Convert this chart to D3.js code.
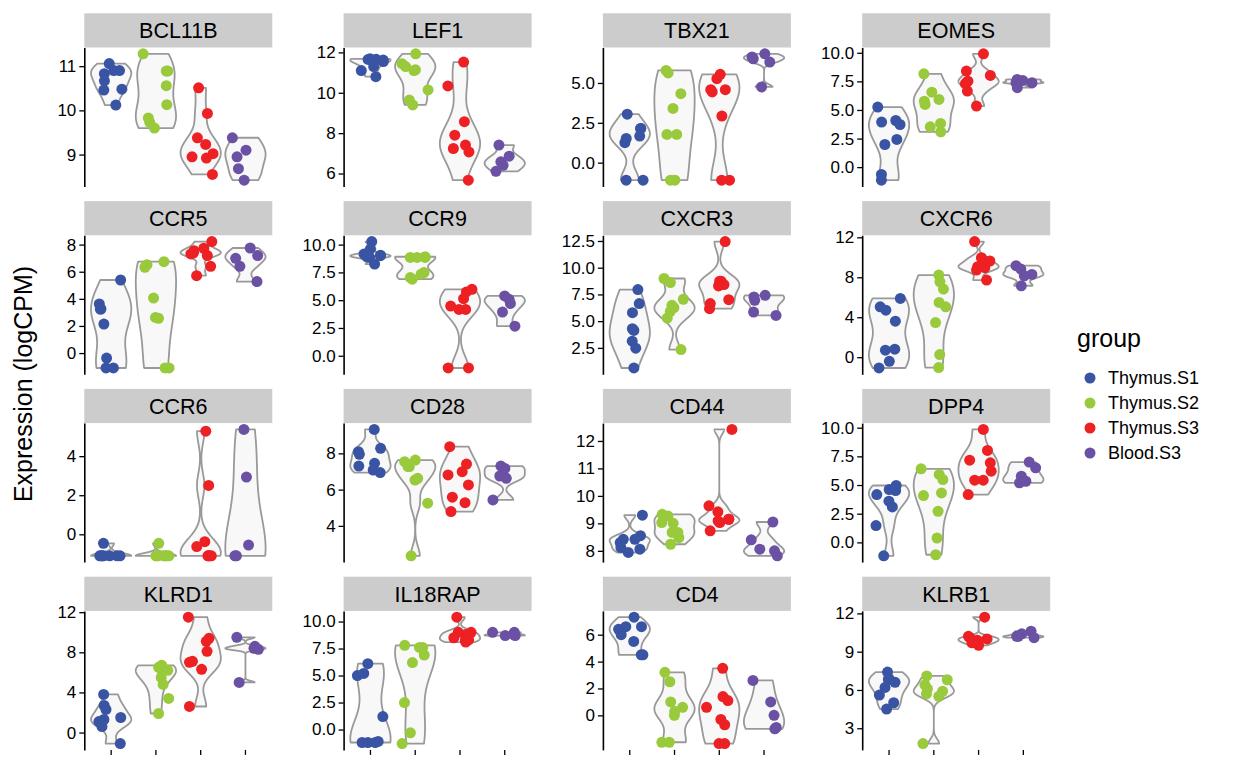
<!DOCTYPE html>
<html><head><meta charset="utf-8">
<script src="https://cdn.jsdelivr.net/npm/d3@7"></script>
<style>body{margin:0;background:#fff} svg text{font-family:"Liberation Sans",Arial,Helvetica,sans-serif;fill:#000}</style>
</head><body><svg id="chart" width="1248" height="768"></svg>
<script>
// ---------------- data ----------------
const genes = ["BCL11B","LEF1","TBX21","EOMES","CCR5","CCR9","CXCR3","CXCR6","CCR6","CD28","CD44","DPP4","KLRD1","IL18RAP","CD4","KLRB1"];
const groups = ["Thymus.S1","Thymus.S2","Thymus.S3","Blood.S3"];
const groupColors = ["#3A54A4","#98CA3C","#ED2024","#6A51A3"];

// values per group: [Thymus.S1, Thymus.S2, Thymus.S3, Blood.S3]
const BCL11B = [[11.06,10.90,10.83,10.90,10.67,10.46,10.48,10.12],[11.28,10.89,10.89,10.56,10.13,9.73,9.83,9.60],[10.51,9.93,9.38,9.23,9.02,8.95,8.92,8.55],[9.10,9.38,8.95,8.68,8.42]];
const LEF1 = [[11.68,11.66,11.65,11.62,11.55,11.30,11.10,10.80],[11.93,11.44,11.30,11.14,11.10,10.14,9.64,9.40],[11.52,10.34,8.57,7.90,7.41,7.24,7.07,5.67],[7.41,6.86,6.58,6.41,6.11]];
const TBX21 = [[3.04,2.15,2.15,1.67,1.52,1.25,-1.1,-1.1],[5.79,5.63,4.33,3.40,1.77,1.77,-1.1,-1.1],[5.54,5.27,4.58,4.58,4.44,2.92,-1.1,-1.1],[6.83,6.63,6.52,6.31,4.75]];
const EOMES = [[5.25,4.08,3.94,3.73,2.42,1.98,-0.64,-1.14],[8.16,6.56,5.92,5.77,5.48,3.82,3.53,3.09],[9.91,8.40,8.02,7.52,7.43,7.30,6.65,5.34],[7.67,7.58,7.38,7.38,6.95]];
const CCR5 = [[5.39,3.62,3.25,3.25,2.14,-0.37,-1.1,-1.1],[6.74,6.52,6.33,4.06,2.63,2.56,-1.1,-1.1],[8.22,7.73,7.55,7.38,7.31,7.19,6.40,5.71],[7.75,7.19,6.99,6.40,5.27]];
const CCR9 = [[10.27,9.61,9.15,9.05,9.00,8.90,8.85,8.25],[8.91,8.85,8.85,8.85,7.49,7.34,7.04,6.89],[5.98,5.74,5.14,4.47,4.17,4.17,-1.1,-1.1],[5.38,5.08,4.71,3.93,2.66]];
const CXCR3 = [[7.95,6.64,5.79,4.29,4.13,3.13,2.47,0.62],[8.99,8.61,7.05,6.48,6.26,5.92,5.29,2.34],[12.44,8.74,8.74,8.42,8.30,7.01,6.64,6.17],[7.42,7.27,6.95,5.85,5.54]];
const CXCR6 = [[5.88,5.04,4.71,3.61,0.80,0.70,-0.41,-1.08],[8.22,7.55,6.82,5.48,5.04,3.47,0.26,-1.04],[11.57,9.96,9.63,9.22,9.06,8.96,8.72,7.72],[9.16,8.82,8.29,8.15,7.15]];
const CCR6 = [[-0.46,-1.1,-1.1,-1.1,-1.1,-1.1,-1.1,-1.1],[-0.46,-1.1,-1.1,-1.1,-1.1,-1.1,-1.1,-1.1],[5.28,2.50,-0.38,-0.63,-1.1,-1.1,-1.1,-1.1],[5.37,2.93,-0.55,-1.1,-1.1]];
const CD28 = [[9.32,8.28,8.09,7.95,7.45,7.30,7.08,6.94],[7.63,7.54,7.27,7.27,6.62,6.53,5.25,2.35],[8.37,7.41,6.99,6.81,6.26,5.58,5.28,4.79],[7.30,7.17,6.75,6.62,5.43]];
const CD44 = [[9.30,8.55,8.42,8.42,8.30,8.12,8.06,7.94],[9.33,9.27,9.03,9.00,8.67,8.67,8.48,8.24],[12.42,9.64,9.42,9.15,9.15,9.09,9.03,8.73],[9.05,8.40,8.06,8.00,7.82]];
const DPP4 = [[4.96,4.61,4.52,4.17,3.59,3.09,1.46,-1.17],[6.41,5.92,5.48,4.31,4.08,2.71,0.38,-1.08],[9.85,8.02,7.17,6.94,6.21,5.42,5.42,4.17],[7.00,6.50,5.77,5.33,5.19]];
const KLRD1 = [[3.8,2.7,2.3,1.5,1.3,1.1,0.6,-1.1],[6.7,6.5,6.3,6.2,5.5,4.8,3.4,1.9],[11.5,9.4,9.1,8.1,7.1,7.0,6.3,2.6],[9.5,8.6,8.4,8.3,5.0]];
const IL18RAP = [[6.1,5.2,5.0,1.2,-1.2,-1.2,-1.1,-1.2],[7.8,7.6,7.6,6.9,6.2,2.5,-0.3,-1.3],[10.4,9.0,9.0,8.8,8.5,8.3,8.3,8.1],[9.0,9.0,8.8,8.7,8.7]];
const CD4 = [[7.3,6.6,6.6,6.4,6.0,5.5,4.5,4.5],[3.2,2.5,1.0,0.6,0.3,0.0,-2.0,-2.0],[3.5,1.4,1.1,0.6,-0.3,-0.7,-2.1,-2.1],[2.6,1.0,0.0,-0.9,-1.0]];
const KLRB1 = [[7.4,6.9,6.8,6.6,6.2,5.6,5.0,4.5],[7.1,6.8,6.4,6.1,5.9,5.7,5.5,1.8],[11.7,10.2,10.1,10.0,9.9,9.8,9.7,9.5],[10.6,10.4,10.2,10.2,10.1]];

// y-axis tick values per facet
const ticks_BCL11B = [9,10,11];
const ticks_LEF1 = [6,8,10,12];
const ticks_TBX21 = [0,2.5,5];
const ticks_EOMES = [0,2.5,5,7.5,10];
const ticks_CCR5 = [0,2,4,6,8];
const ticks_CCR9 = [0,2.5,5,7.5,10];
const ticks_CXCR3 = [2.5,5,7.5,10,12.5];
const ticks_CXCR6 = [0,4,8,12];
const ticks_CCR6 = [0,2,4];
const ticks_CD28 = [4,6,8];
const ticks_CD44 = [8,9,10,11,12];
const ticks_DPP4 = [0,2.5,5,7.5,10];
const ticks_KLRD1 = [0,4,8,12];
const ticks_IL18RAP = [0,2.5,5,7.5,10];
const ticks_CD4 = [0,2,4,6];
const ticks_KLRB1 = [3,6,9,12];

const yTitle = "Expression (logCPM)";
const legendTitle = "group";

// lookup built from the arrays above
const geneValues = {BCL11B,LEF1,TBX21,EOMES,CCR5,CCR9,CXCR3,CXCR6,CCR6,CD28,CD44,DPP4,KLRD1,IL18RAP,CD4,KLRB1};
const geneTicks = {BCL11B:ticks_BCL11B,LEF1:ticks_LEF1,TBX21:ticks_TBX21,EOMES:ticks_EOMES,CCR5:ticks_CCR5,CCR9:ticks_CCR9,CXCR3:ticks_CXCR3,CXCR6:ticks_CXCR6,CCR6:ticks_CCR6,CD28:ticks_CD28,CD44:ticks_CD44,DPP4:ticks_DPP4,KLRD1:ticks_KLRD1,IL18RAP:ticks_IL18RAP,CD4:ticks_CD4,KLRB1:ticks_KLRB1};

// ---------------- layout ----------------
const colX0 = 84.3, colStep = 259.3, panelW = 188;
const rowY0 = 13.3, rowStep = 187.8, stripH = 34.2, panelH = 139;
const stripFill = "#CCCCCC";
const violinFill = "#F8F8F8", violinStroke = "#999999";
const pointR = 5.5;

const svg = d3.select("#chart");
const jitter = d3.randomUniform.source(d3.randomLcg(0.4217))(-0.3, 0.3);

function bwNrd0(x){
  const n = x.length;
  const hi = d3.deviation(x);
  const s = x.slice().sort(d3.ascending);
  const iqr = d3.quantileSorted(s,0.75) - d3.quantileSorted(s,0.25);
  let lo = Math.min(hi, iqr/1.34);
  if (!lo) lo = hi || Math.abs(x[0]) || 1;
  return 0.9 * lo * Math.pow(n, -0.2);
}
function violinData(x){
  const [mn, mx] = d3.extent(x);
  if (mx - mn <= 0) return null;
  const bw = bwNrd0(x), n = x.length, N = 512;
  const pts = [];
  for (let i = 0; i < N; i++){
    const yv = mn + (mx - mn) * i / (N - 1);
    let d = 0;
    for (const v of x){ const u = (yv - v) / bw; d += Math.exp(-0.5*u*u); }
    pts.push({y: yv, d: d / (n * bw * Math.sqrt(2*Math.PI))});
  }
  const dmax = d3.max(pts, p => p.d);
  pts.forEach(p => p.w = p.d / dmax);
  return pts;
}

genes.forEach((gene, k) => {
  const col = k % 4, row = Math.floor(k / 4);
  const x0 = colX0 + col * colStep;
  const sy = rowY0 + row * rowStep;
  const py = sy + stripH;
  const g = svg.append("g");
  const vals = geneValues[gene];
  const all = vals.flat();
  const [mn, mx] = d3.extent(all);
  const pad = (mx - mn) * 0.05;
  const y = d3.scaleLinear().domain([mn - pad, mx + pad]).range([py + panelH, py]);
  const x = d3.scaleLinear().domain([0.4, 4.6]).range([x0, x0 + panelW]);
  const unit = x(1) - x(0);

  // strip
  g.append("rect").attr("x", x0).attr("y", sy).attr("width", panelW).attr("height", stripH).attr("fill", stripFill);
  g.append("text").attr("x", x0 + panelW/2).attr("y", sy + stripH/2).attr("dy", "0.36em")
    .attr("text-anchor", "middle").style("font-size", "21.5px").text(gene);

  // violins
  vals.forEach((v, i) => {
    const vd = violinData(v);
    if (!vd) return;
    const cx = x(i + 1);
    const area = d3.area().y(p => y(p.y)).x0(p => cx - 0.45 * unit * p.w).x1(p => cx + 0.45 * unit * p.w);
    g.append("path").attr("d", area(vd)).attr("fill", violinFill).attr("stroke", violinStroke)
      .attr("stroke-width", 1.8).attr("stroke-linejoin", "round");
  });
  // points
  vals.forEach((v, i) => {
    v.forEach(val => {
      g.append("circle").attr("cx", x(i + 1 + jitter())).attr("cy", y(val)).attr("r", pointR)
        .attr("fill", groupColors[i]);
    });
  });

  // y axis
  const tv = geneTicks[gene];
  const fmt = tv.every(t => Number.isInteger(t)) ? d3.format("d") : d3.format(".1f");
  const ax = g.append("g").attr("transform", `translate(${x0},0)`)
    .call(d3.axisLeft(y).tickValues(tv).tickFormat(fmt).tickSize(5).tickSizeOuter(0).tickPadding(3));
  ax.select(".domain").attr("stroke", "#000").attr("stroke-width", 1.6);
  ax.selectAll(".tick line").attr("stroke", "#000").attr("stroke-width", 1.3);
  ax.selectAll(".tick text").style("font-size", "17px").attr("fill", "#000")
    .style("font-family", "'Liberation Sans',Arial,sans-serif");

  // x ticks on bottom row only
  if (row === 3) {
    groups.forEach((gr, i) => {
      g.append("line").attr("x1", x(i + 1)).attr("x2", x(i + 1))
        .attr("y1", py + panelH).attr("y2", py + panelH + 5).attr("stroke", "#000").attr("stroke-width", 1.3);
    });
  }
});

// y title
svg.append("text").attr("transform", `translate(32,384) rotate(-90)`).attr("text-anchor", "middle")
  .style("font-size", "25px").text(yTitle);

// legend
const lg = svg.append("g").attr("transform", "translate(1077,0)");
lg.append("text").attr("x", 0).attr("y", 347).style("font-size", "25px").text(legendTitle);
groups.forEach((gr, i) => {
  const cy = 378 + i * 25;
  lg.append("circle").attr("cx", 13).attr("cy", cy).attr("r", 5.5).attr("fill", groupColors[i]);
  lg.append("text").attr("x", 31).attr("y", cy).attr("dy", "0.36em").style("font-size", "18px").text(gr);
});
</script></body></html>
